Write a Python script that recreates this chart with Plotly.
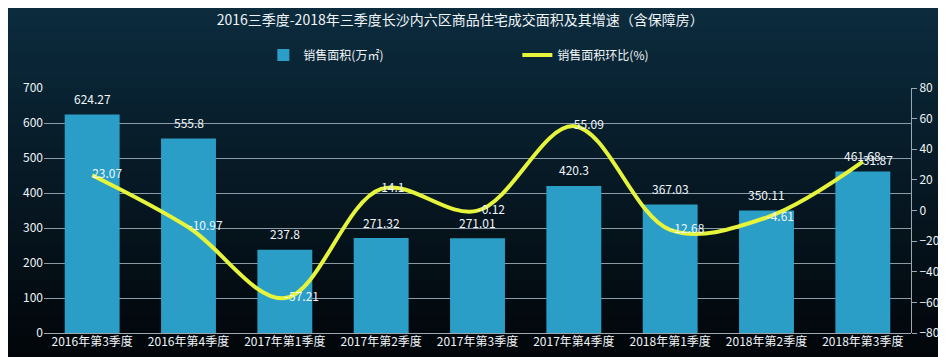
import plotly.graph_objects as go

categories = ["2016年第3季度", "2016年第4季度", "2017年第1季度", "2017年第2季度", "2017年第3季度",
              "2017年第4季度", "2018年第1季度", "2018年第2季度", "2018年第3季度"]
area = [624.27, 555.8, 237.8, 271.32, 271.01, 420.3, 367.03, 350.11, 461.68]
growth = [23.07, -10.97, -57.21, 14.1, -0.12, 55.09, -12.68, -4.61, 31.87]
left_ticks = [0, 100, 200, 300, 400, 500, 600, 700]
right_ticks = [-80, -60, -40, -20, 0, 20, 40, 60, 80]

W, H = 946, 357
ML, MR, MT, MB = 36, 43, 80, 32
font = "Noto Sans CJK SC, Noto Sans, sans-serif"

fig = go.Figure()
fig.add_trace(go.Bar(
    x=categories, y=area, name="销售面积(万㎡)",
    marker=dict(color="#2a9ec6", line=dict(width=0)),
))
fig.add_trace(go.Scatter(
    x=categories, y=growth, name="销售面积环比(%)", yaxis="y2",
    mode="lines+text", line=dict(color="#e6f53c", width=4, shape="spline", smoothing=1.0),
    text=[f"{v:g}" for v in growth], textposition="middle right",
    textfont=dict(color="#eef7ff", size=12, family=font),
    cliponaxis=False,
))

for c, v in zip(categories, area):
    fig.add_annotation(x=c, y=v, xref="x", yref="y", text=f"{v:g}", showarrow=False,
                       yshift=16, font=dict(color="#f2f6fa", size=12, family=font))

# vertical gradient background
n = 30
top = (12, 44, 62)
bot = (2, 6, 10)
ph = H - MT - MB
for i in range(n):
    t = i / (n - 1)
    c = tuple(int(top[k] + (bot[k] - top[k]) * t) for k in range(3))
    fig.add_shape(type="rect", xref="paper", yref="paper",
                  x0=-0.1, x1=1.1,
                  y0=1 + MT / ph - (i + 1) * (H / ph) / n,
                  y1=1 + MT / ph - i * (H / ph) / n + 0.01,
                  fillcolor=f"rgb{c}", line=dict(width=0), layer="below")

fig.update_layout(
    width=W, height=H,
    margin=dict(l=ML, r=MR, t=MT, b=MB, autoexpand=False),
    paper_bgcolor="#030a10", plot_bgcolor="rgba(0,0,0,0)",
    font=dict(family=font, color="#f0f4f8", size=12),
    title=dict(text="2016三季度-2018年三季度长沙内六区商品住宅成交面积及其增速（含保障房）",
               x=0.478, xanchor="center", y=0.965, yanchor="middle",
               font=dict(size=14, color="#f0f4f8", family=font)),
    bargap=0.43,
    showlegend=True,
    legend=dict(orientation="h", x=0.253, xanchor="left", y=1.135, yanchor="middle",
                bgcolor="rgba(0,0,0,0)", font=dict(size=12, color="#f0f4f8", family=font),
                entrywidth=209, entrywidthmode="pixels", itemwidth=30),
    xaxis=dict(showgrid=False, ticks="", tickfont=dict(size=12, color="#f0f4f8"),
               showline=False, zeroline=False),
    yaxis=dict(range=[0, 700], tickvals=left_ticks, showgrid=True, gridcolor="#8a9aa6",
               gridwidth=1, zeroline=True, zerolinecolor="#9aa8b2", zerolinewidth=1,
               showline=False, ticks="", tickfont=dict(size=12, color="#f0f4f8")),
    yaxis2=dict(range=[-80, 80], tickvals=right_ticks, overlaying="y", side="right",
                showgrid=False, zeroline=False, showline=True, linecolor="#9aa8b2",
                ticks="outside", ticklen=5, tickcolor="#9aa8b2",
                tickfont=dict(size=12, color="#f0f4f8")),
)

fig.write_html("out.html")
